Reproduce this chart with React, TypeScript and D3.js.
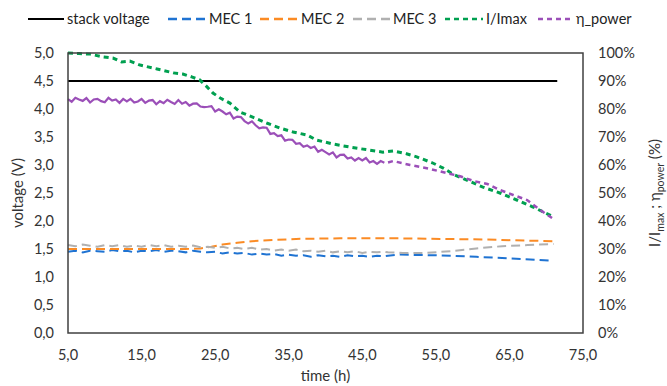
import React from 'react'
import * as d3 from 'd3'

// stack voltage (V), flat over the whole run
const stackTimes = [5, 71.5]
const stackVoltage = [4.5, 4.5]

// logged part of the run: η_power every 30 min, MEC voltages every hour
const logTimes = d3.range(5, 48.25, 0.5)
const mecLogTimes = d3.range(5, 48.5, 1)

const mec1Logged = [
  1.45, 1.47, 1.44, 1.47, 1.46, 1.45, 1.48, 1.46, 1.47, 1.44, 1.47, 1.46, 1.48, 1.45, 1.47,
  1.46, 1.44, 1.47, 1.45, 1.44, 1.45, 1.42, 1.44, 1.42, 1.43, 1.4, 1.42, 1.4, 1.41, 1.38,
  1.4, 1.38, 1.39, 1.36, 1.39, 1.37, 1.38, 1.36, 1.39, 1.37, 1.38, 1.36, 1.38, 1.37,
]
const mec1LaterTimes = [48.5, 50, 54, 57, 60.5, 64, 67, 71]
const mec1Later = [1.38, 1.4, 1.39, 1.38, 1.36, 1.34, 1.32, 1.29]

const mec2Times = [5, 15, 21, 23, 24.5, 26, 28, 30, 33, 36, 42, 50, 56, 62, 67, 71]
const mec2Values = [1.5, 1.5, 1.5, 1.51, 1.54, 1.58, 1.61, 1.64, 1.66, 1.68, 1.69, 1.69, 1.68, 1.67, 1.65, 1.64]

const mec3Logged = [
  1.57, 1.55, 1.58, 1.56, 1.54, 1.57, 1.55, 1.57, 1.54, 1.56, 1.54, 1.57, 1.55, 1.57, 1.54,
  1.56, 1.54, 1.56, 1.53, 1.54, 1.52, 1.54, 1.51, 1.52, 1.5, 1.52, 1.49, 1.5, 1.47, 1.49,
  1.47, 1.49, 1.46, 1.47, 1.45, 1.47, 1.44, 1.46, 1.44, 1.46, 1.43, 1.45, 1.44, 1.45,
]
const mec3LaterTimes = [48.5, 50.5, 53.5, 57, 60.5, 64, 67.5, 71]
const mec3Later = [1.44, 1.43, 1.43, 1.46, 1.51, 1.55, 1.57, 1.59]

// I/Imax (%)
const currentTimes = [
  5, 6.5, 8, 9.8, 11.1, 12.3, 13.4, 14.8, 17.1, 19.3, 20.6, 21.9, 22.9, 23.9, 24.7, 25.7, 27,
  28.4, 30.1, 32, 33.8, 35.6, 37.5, 38.8, 41, 43.3, 45.5, 47.8, 49.2, 51, 52.4, 54.5, 56, 57.5,
  59.2, 61.4, 63.7, 66, 68.2, 70.5, 71,
]
const currentRatio = [
  100, 99.8, 99.6, 98.6, 98.2, 96.8, 97.1, 95.7, 94.3, 92.9, 92.5, 91.4, 90.4, 87.9, 85.7, 83.9,
  82.1, 78.9, 77.1, 75, 73.2, 71.8, 70.7, 68.9, 67.5, 66.4, 65.5, 64.6, 65, 64, 62.9, 60.8, 58.9,
  56.5, 54.6, 52.1, 50, 47.5, 45, 42.1, 41.4,
]

// η_power (%)
const powerLogged = [
  83.5, 82.6, 84.0, 83.4, 82.9, 83.9, 82.3, 83.4, 83.6, 82.8,
  82.4, 84.0, 83.0, 83.4, 82.2, 83.6, 82.7, 83.6, 82.3, 82.7,
  83.6, 82.2, 83.0, 83.2, 81.7, 82.8, 82.1, 83.3, 82.5, 81.8,
  83.2, 81.9, 82.5, 81.2, 81.9, 82.0, 80.9, 80.7, 80.8, 81.0,
  79.1, 79.9, 79.1, 78.1, 78.7, 76.6, 77.3, 77.1, 75.7, 74.8,
  75.6, 74.2, 73.1, 73.4, 73.3, 71.1, 71.4, 70.3, 70.6, 68.7,
  69.1, 69.0, 67.6, 67.8, 66.5, 67.0, 66.1, 66.6, 64.7, 65.4,
  64.6, 63.8, 64.5, 62.7, 63.6, 63.7, 62.3, 62.7, 61.6, 62.5,
  61.6, 62.5, 60.9, 61.4, 60.4, 61.4, 60.8,
]
const powerLaterTimes = [48.5, 49.2, 51.5, 54.2, 56.5, 58.3, 60.1, 62, 63.7, 65.5, 67.4, 69.2, 71]
const powerLater = [60.9, 61.4, 60.0, 58.6, 57.1, 56.0, 54.3, 53.2, 51.1, 49.3, 47.5, 43.9, 40.7]

const xTicks = [5, 15, 25, 35, 45, 55, 65, 75]
const yTicks = [0, 0.5, 1, 1.5, 2, 2.5, 3, 3.5, 4, 4.5, 5]
const pctTicks = [0, 10, 20, 30, 40, 50, 60, 70, 80, 90, 100]

const W = 667
const H = 386
const M = { left: 68, right: 84, top: 53, bottom: 53 }
const FONT = 'Lato, "Open Sans", sans-serif'

type Pt = [number, number]
const zip = (t: number[], v: number[]): Pt[] => t.map((d, i) => [d, v[i]])

export default function App() {
  const x = d3.scaleLinear().domain([5, 75]).range([M.left, W - M.right])
  const y = d3.scaleLinear().domain([0, 5]).range([H - M.bottom, M.top])
  const yPct = d3.scaleLinear().domain([0, 100]).range([H - M.bottom, M.top])

  const lineV = d3.line<Pt>().x((d) => x(d[0])).y((d) => y(d[1]))
  const lineP = d3.line<Pt>().x((d) => x(d[0])).y((d) => yPct(d[1]))

  const fmt = (v: number) => v.toFixed(1).replace('.', ',')

  const legend = [
    { label: 'stack voltage', color: '#000000', dash: '', x0: 28, w: 36 },
    { label: 'MEC 1', color: '#1f73d2', dash: '9,5', x0: 168, w: 38 },
    { label: 'MEC 2', color: '#fb8b24', dash: '9,5', x0: 260, w: 38 },
    { label: 'MEC 3', color: '#b0b0b0', dash: '9,5', x0: 353, w: 37 },
    { label: 'I/Imax', color: '#00a050', dash: '5,4', x0: 445, w: 38 },
    { label: 'η_power', color: '#9b4fb8', dash: '5,4', x0: 538, w: 35 },
  ]

  return (
    <svg
      width={W}
      height={H}
      style={{ position: 'absolute', left: 0, top: 0, background: '#fff' }}
      fontFamily={FONT}
    >
      {/* legend */}
      {legend.map((d) => (
        <g key={d.label}>
          <line
            x1={d.x0}
            x2={d.x0 + d.w}
            y1={19}
            y2={19}
            stroke={d.color}
            strokeWidth={d.dash ? 2.5 : 1.8}
            strokeDasharray={d.dash}
          />
          <text x={d.x0 + d.w + 3} y={24} fontSize={14.5} fill="#222">
            {d.label}
          </text>
        </g>
      ))}

      {/* series */}
      <path d={lineV(zip(stackTimes, stackVoltage)) ?? ''} fill="none" stroke="#000" strokeWidth={2} />
      <path
        d={lineV(zip(mecLogTimes, mec1Logged).concat(zip(mec1LaterTimes, mec1Later))) ?? ''}
        fill="none"
        stroke="#1f73d2"
        strokeWidth={2}
        strokeDasharray="9,5"
      />
      <path
        d={lineV(zip(mec2Times, mec2Values)) ?? ''}
        fill="none"
        stroke="#fb8b24"
        strokeWidth={2}
        strokeDasharray="9,5"
      />
      <path
        d={lineV(zip(mecLogTimes, mec3Logged).concat(zip(mec3LaterTimes, mec3Later))) ?? ''}
        fill="none"
        stroke="#b0b0b0"
        strokeWidth={2}
        strokeDasharray="9,5"
      />
      <path
        d={lineP(zip(currentTimes, currentRatio)) ?? ''}
        fill="none"
        stroke="#00a050"
        strokeWidth={3}
        strokeDasharray="5,4"
      />
      <path d={lineP(zip(logTimes, powerLogged)) ?? ''} fill="none" stroke="#9b4fb8" strokeWidth={2.2} />
      <path
        d={lineP(zip(powerLaterTimes, powerLater)) ?? ''}
        fill="none"
        stroke="#9b4fb8"
        strokeWidth={2.5}
        strokeDasharray="5,4"
      />

      {/* frame */}
      <rect
        x={M.left}
        y={M.top}
        width={W - M.left - M.right}
        height={H - M.top - M.bottom}
        fill="none"
        stroke="#404040"
        strokeWidth={1.5}
      />

      {/* axes labels */}
      {yTicks.map((t) => (
        <text key={t} x={M.left - 14} y={y(t) + 5} fontSize={14.5} textAnchor="end" fill="#333">
          {fmt(t)}
        </text>
      ))}
      {pctTicks.map((t) => (
        <text key={t} x={W - M.right + 15} y={yPct(t) + 5} fontSize={14.5} fill="#333">
          {t}%
        </text>
      ))}
      {xTicks.map((t) => (
        <text key={t} x={x(t)} y={360} fontSize={14.5} textAnchor="middle" fill="#333">
          {fmt(t)}
        </text>
      ))}

      <text x={(M.left + W - M.right) / 2} y={381} fontSize={15} textAnchor="middle" fill="#333">
        time (h)
      </text>
      <text
        transform={`translate(23,${(M.top + H - M.bottom) / 2}) rotate(-90)`}
        fontSize={15}
        textAnchor="middle"
        fill="#333"
      >
        voltage (V)
      </text>
      <text
        transform={`translate(660,${(M.top + H - M.bottom) / 2}) rotate(-90)`}
        fontSize={15}
        textAnchor="middle"
        fill="#333"
      >
        I/I
        <tspan fontSize={10.5} dy={4}>max</tspan>
        <tspan dy={-4}> ; η</tspan>
        <tspan fontSize={10.5} dy={4}>power</tspan>
        <tspan dy={-4}> (%)</tspan>
      </text>
    </svg>
  )
}
